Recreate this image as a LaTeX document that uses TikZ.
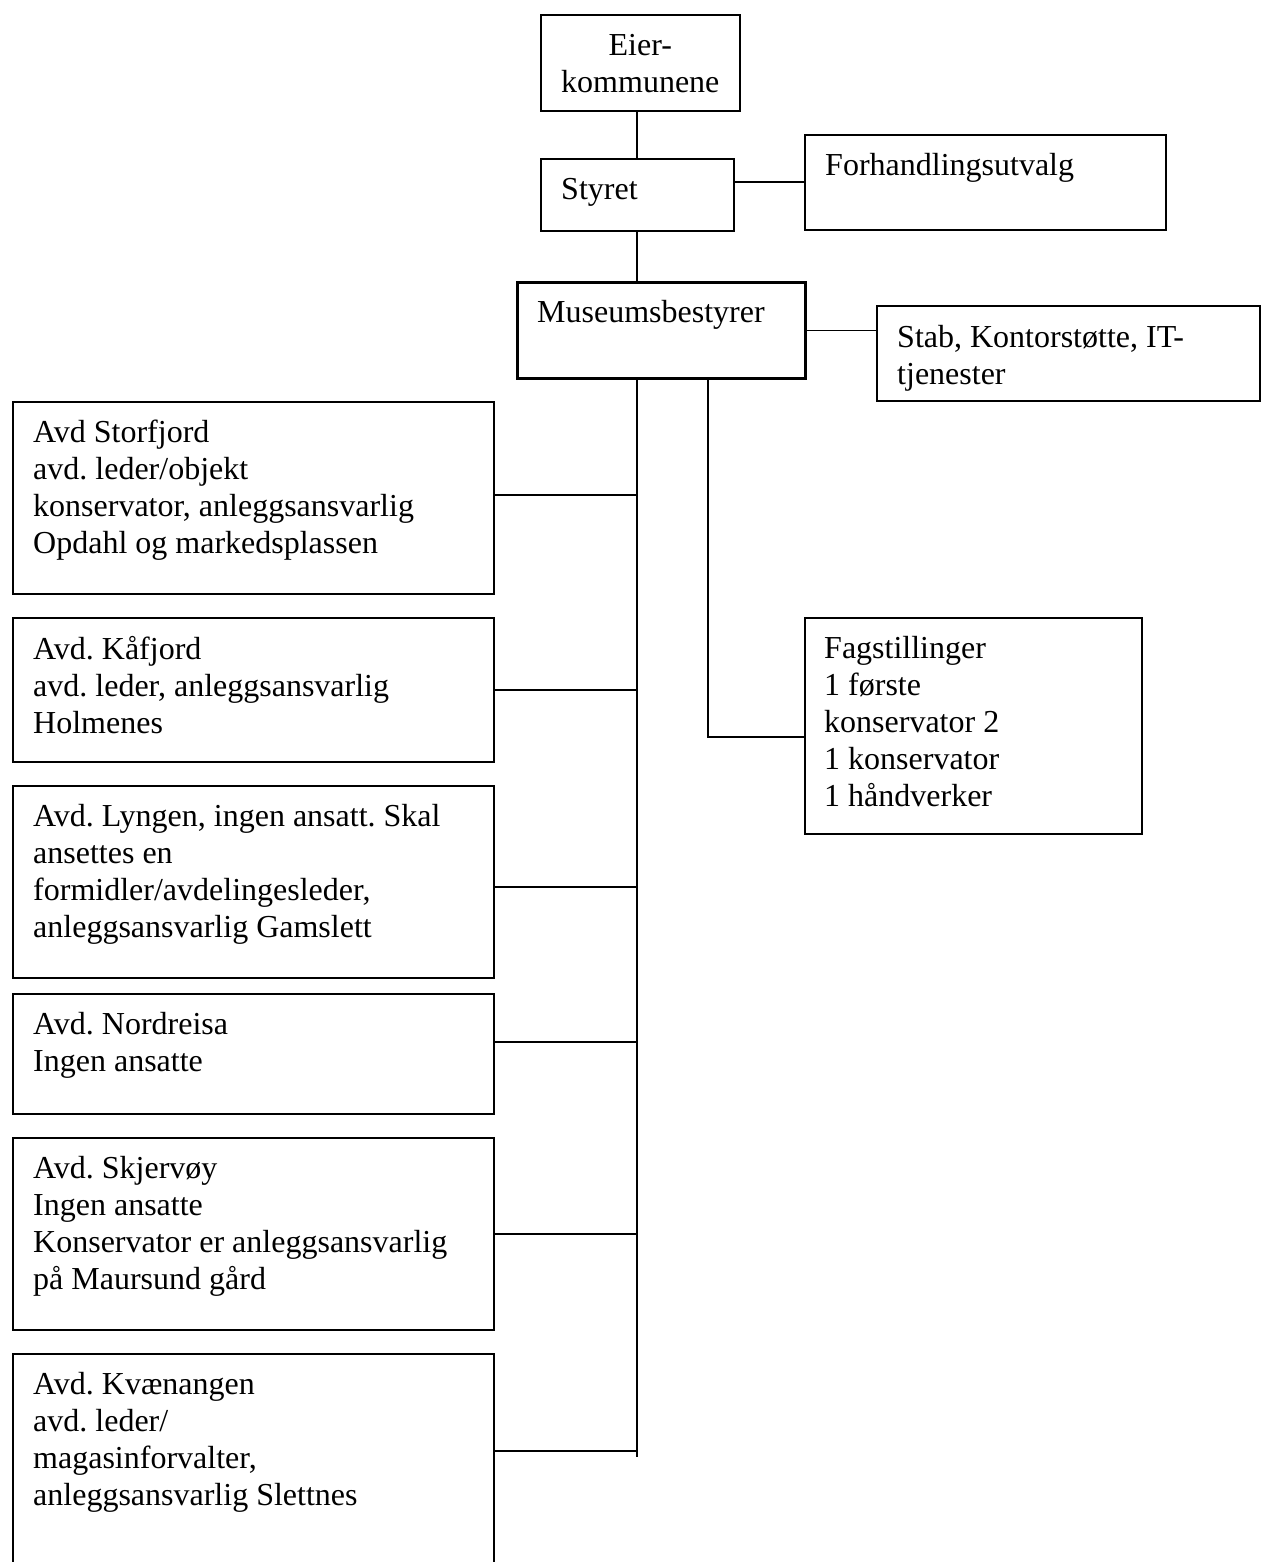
\documentclass[tikz,border=0pt]{standalone}
\usepackage{fontspec}
\setmainfont{Liberation Serif}
\usepackage{tikz}
\frenchspacing
\tikzset{
  orgbox/.style={draw, line width=1.6pt, rectangle, inner sep=0pt, anchor=north west},
  orgtext/.style={inner sep=0pt, anchor=north west, align=left, execute at begin node=\strut},
  orgline/.style={line width=1.6pt}
}

\begin{document}
\begin{tikzpicture}[x=1pt,y=1pt,yscale=-1,xscale=1,font=\fontsize{32}{37}\selectfont]
\useasboundingbox (0,0) rectangle (1261,1562);

%Shape: Rectangle top
\node[orgbox, minimum width=199pt, minimum height=96pt] (eier) at (540,14) {};
\node[orgtext, anchor=north, align=center] (eiertxt) at ([yshift=20pt]eier.north) {Eier-\\kommunene};

%Shape: Rectangle board
\node[orgbox, minimum width=193pt, minimum height=72pt] (styret) at (540,158) {};
\node[orgtext] (styrettxt) at ([shift={(21pt,15pt)}]styret.north west) {Styret};

\node[orgbox, minimum width=361pt, minimum height=95pt] (forh) at (804,134) {};
\node[orgtext] (forhtxt) at ([shift={(21pt,15pt)}]forh.north west) {Forhandlingsutvalg};

%Shape: Rectangle director
\node[orgbox, line width=3pt, minimum width=288pt, minimum height=96pt] (museum) at (516,281) {};
\node[orgtext] (museumtxt) at ([shift={(21pt,15pt)}]museum.north west) {Museumsbestyrer};

\node[orgbox, minimum width=383pt, minimum height=95pt] (stab) at (876,305) {};
\node[orgtext] (stabtxt) at ([shift={(21pt,20pt)}]stab.north west) {Stab, Kontorstøtte, IT-\\tjenester};

\node[orgbox, minimum width=337pt, minimum height=216pt] (fag) at (804,617) {};
\node[orgtext] (fagtxt) at ([shift={(20pt,19pt)}]fag.north west) {Fagstillinger\\1 første\\konservator 2\\1 konservator\\1 håndverker};

%Shape: Rectangle departments
\node[orgbox, minimum width=481pt, minimum height=192pt] (avd1) at (12,401) {};
\node[orgtext] (avd1txt) at ([shift={(21pt,19pt)}]avd1.north west) {Avd Storfjord\\avd. leder/objekt\\konservator, anleggsansvarlig\\Opdahl og markedsplassen};

\node[orgbox, minimum width=481pt, minimum height=144pt] (avd2) at (12,617) {};
\node[orgtext] (avd2txt) at ([shift={(21pt,19pt)}]avd2.north west) {Avd. Kåfjord\\avd. leder, anleggsansvarlig\\Holmenes};

\node[orgbox, minimum width=481pt, minimum height=192pt] (avd3) at (12,785) {};
\node[orgtext] (avd3txt) at ([shift={(21pt,19pt)}]avd3.north west) {Avd. Lyngen, ingen ansatt. Skal\\ansettes en\\formidler/avdelingesleder,\\anleggsansvarlig Gamslett};

\node[orgbox, minimum width=481pt, minimum height=120pt] (avd4) at (12,993) {};
\node[orgtext] (avd4txt) at ([shift={(21pt,19pt)}]avd4.north west) {Avd. Nordreisa\\Ingen ansatte};

\node[orgbox, minimum width=481pt, minimum height=192pt] (avd5) at (12,1137) {};
\node[orgtext] (avd5txt) at ([shift={(21pt,19pt)}]avd5.north west) {Avd. Skjervøy\\Ingen ansatte\\Konservator er anleggsansvarlig\\på Maursund gård};

\node[orgbox, minimum width=481pt, minimum height=230pt] (avd6) at (12,1353) {};
\node[orgtext] (avd6txt) at ([shift={(21pt,19pt)}]avd6.north west) {Avd. Kvænangen\\avd. leder/\\magasinforvalter,\\anleggsansvarlig Slettnes};

%Lines
\coordinate (trunkend) at (637,1457);
\coordinate (fagknee) at (708,737);
\draw[orgline] (styret.north -| trunkend) -- (eier.south -| trunkend);
\draw[orgline] (styret.south -| trunkend) -- (museum.north -| trunkend);
\draw[orgline] (museum.south -| trunkend) -- (trunkend);
\draw[orgline] (styret.east |- forh.west) -- (forh.west);
\draw[orgline] (museum.east) -- (museum.east -| stab.west);
\draw[orgline] (museum.south -| fagknee) -- (fagknee) -- (fagknee -| fag.west);
\foreach \n/\s in {avd1/-3,avd2/0,avd3/5,avd4/-12,avd5/0,avd6/-18}
  \draw[orgline] ([yshift=\s pt]\n.east) -- ([yshift=\s pt]\n.east -| trunkend);

\end{tikzpicture}
\end{document}
